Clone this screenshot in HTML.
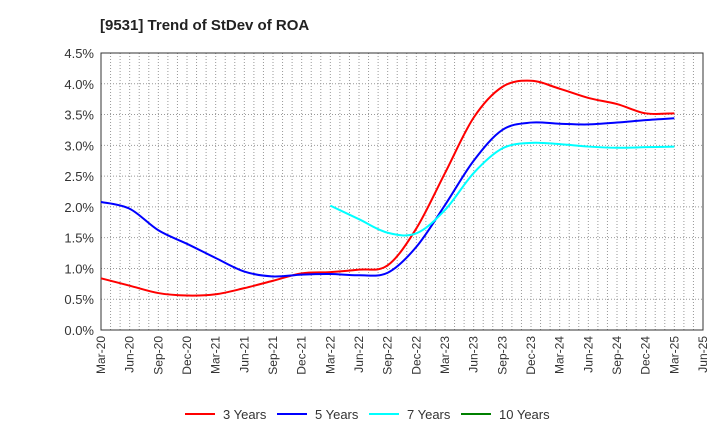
<!DOCTYPE html>
<html><head><meta charset="utf-8"><style>
body{margin:0;background:#fff;font-family:"Liberation Sans",sans-serif;}
svg text{font-family:"Liberation Sans",sans-serif;}
</style></head><body>
<svg id="c" width="720" height="440">
<text x="100" y="30" font-size="15" font-weight="bold" fill="#222">[9531]  Trend of StDev of ROA</text>
<g id="grid"></g><g id="axes"></g><g id="series"></g><g id="legend"></g>
</svg>
<script>
const xLabels=["Mar-20","Jun-20","Sep-20","Dec-20","Mar-21","Jun-21","Sep-21","Dec-21","Mar-22","Jun-22","Sep-22","Dec-22","Mar-23","Jun-23","Sep-23","Dec-23","Mar-24","Jun-24","Sep-24","Dec-24","Mar-25","Jun-25"];
const yTicks=[0,0.5,1,1.5,2,2.5,3,3.5,4,4.5];
const s3=[0.84,0.72,0.60,0.56,0.58,0.68,0.80,0.92,0.94,0.98,1.05,1.65,2.55,3.45,3.95,4.05,3.92,3.77,3.67,3.52,3.52];
const s5=[2.08,1.97,1.62,1.40,1.17,0.95,0.87,0.90,0.91,0.89,0.93,1.35,2.03,2.75,3.25,3.37,3.35,3.34,3.37,3.41,3.44];
const s7=[null,null,null,null,null,null,null,null,2.02,1.80,1.58,1.57,1.95,2.55,2.95,3.04,3.02,2.98,2.96,2.97,2.98];
const s10=[];
const L=101,R=703,T=53,B=330,NS="http://www.w3.org/2000/svg";
const X=i=>L+i*(R-L)/21, Y=v=>B-v/4.5*(B-T);
function mk(t,a,p){const e=document.createElementNS(NS,t);for(const k in a)e.setAttribute(k,a[k]);p.appendChild(e);return e;}
const g=document.getElementById('grid'),ax=document.getElementById('axes'),sg=document.getElementById('series'),lg=document.getElementById('legend');
for(let m=1;m<63;m++){const x=L+m*(R-L)/63;const l=mk('line',{x1:x,x2:x,y1:T,y2:B,stroke:'#999','stroke-dasharray':'1,2','stroke-width':1},g);
}
yTicks.forEach(v=>{const y=Y(v);const l=mk('line',{x1:L,x2:R,y1:y,y2:y,stroke:'#999','stroke-dasharray':'1,2'},g);

const t=mk('text',{x:L-7,y:y+5,'text-anchor':'end','font-size':13,fill:'#333'},ax);t.textContent=v.toFixed(1)+'%';
});
const fr=mk('rect',{x:L,y:T,width:R-L,height:B-T,fill:'none',stroke:'#333'},ax);

xLabels.forEach((s,i)=>{const x=X(i);const t=mk('text',{x:x+4,y:B+6,'text-anchor':'end','font-size':12,fill:'#333',transform:`rotate(-90 ${x+4} ${B+6})`},ax);t.textContent=s;
});
function path(arr){const p=[];arr.forEach((v,i)=>{if(v!=null)p.push([X(i),Y(v)]);});if(p.length<2)return'';
let d=`M${p[0][0]},${p[0][1]}`;for(let i=0;i<p.length-1;i++){const p0=p[i-1]||p[i],p1=p[i],p2=p[i+1],p3=p[i+2]||p2;
d+=` C${p1[0]+(p2[0]-p0[0])/6},${p1[1]+(p2[1]-p0[1])/6} ${p2[0]-(p3[0]-p1[0])/6},${p2[1]-(p3[1]-p1[1])/6} ${p2[0]},${p2[1]}`;}return d;}
const series=[[s3,'#ff0000','3 Years','series-3-years'],[s5,'#0000ff','5 Years','series-5-years'],[s7,'#00ffff','7 Years','series-7-years'],[s10,'#008000','10 Years','series-10-years']];
const lx=[185,277,369,461];
series.forEach((s,k)=>{const d=path(s[0]);if(d){const e=mk('path',{d:d,fill:'none',stroke:s[1],'stroke-width':2},sg);
}
const l=mk('line',{x1:lx[k],x2:lx[k]+30,y1:414,y2:414,stroke:s[1],'stroke-width':2},lg);

const t=mk('text',{x:lx[k]+38,y:419,'font-size':13,fill:'#333'},lg);t.textContent=s[2];
});
</script>
</body></html>
